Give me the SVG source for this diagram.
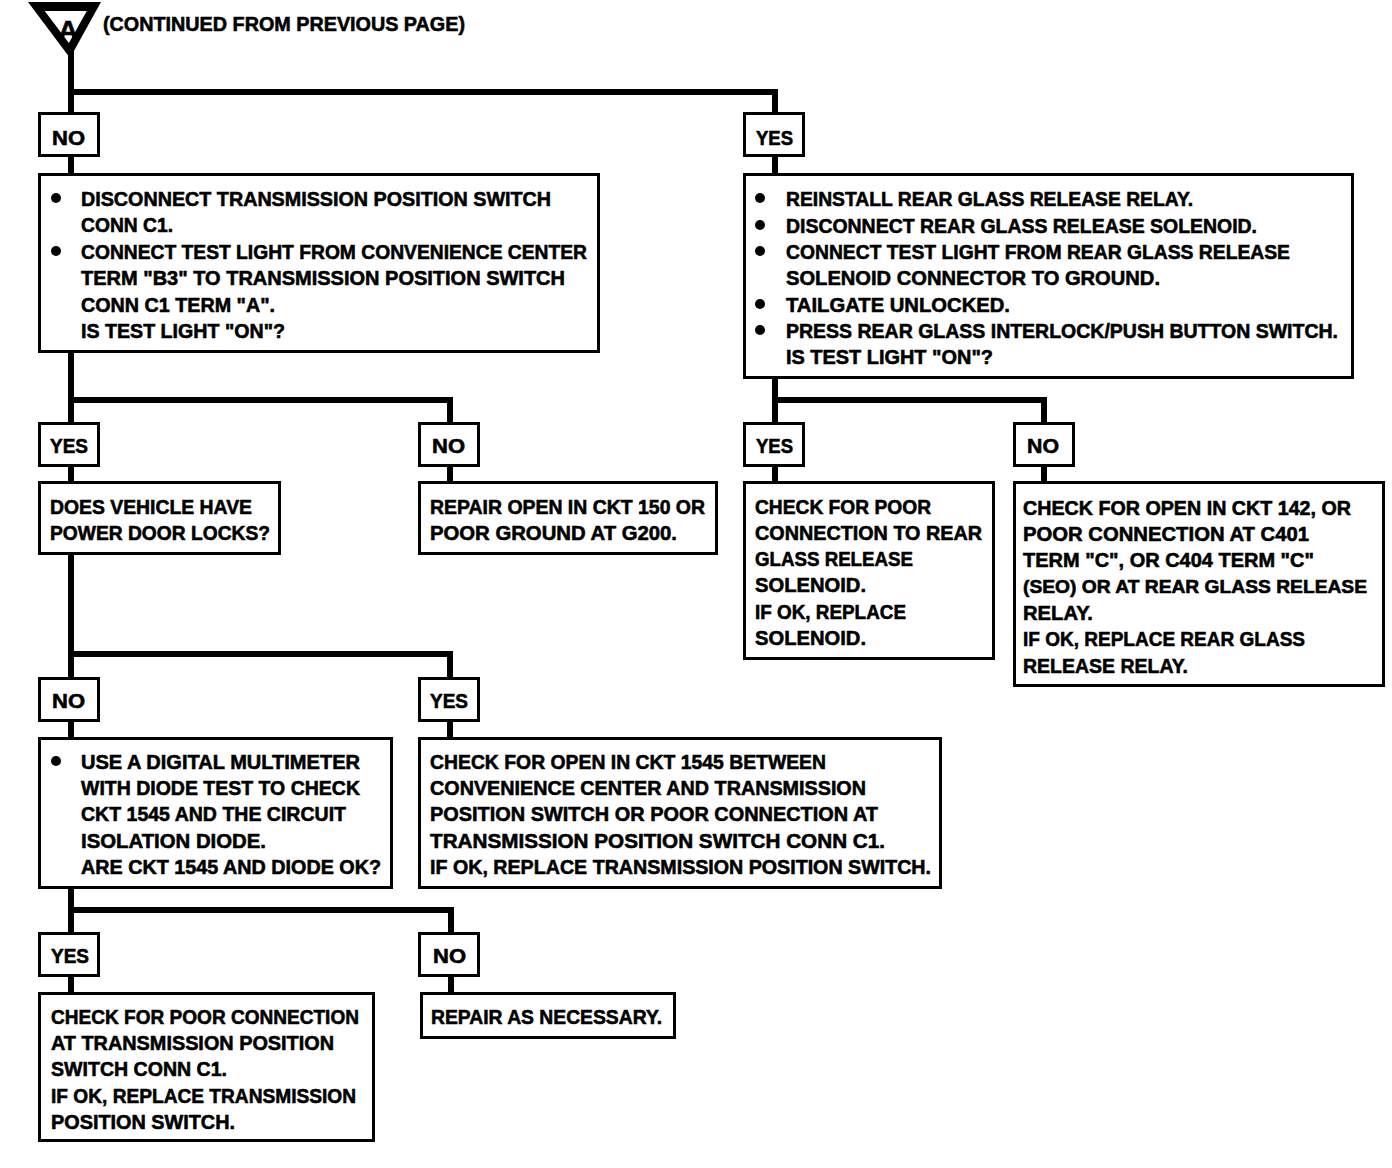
<svg xmlns="http://www.w3.org/2000/svg" width="1392" height="1168" viewBox="0 0 1392 1168">
<style>
.t{font-family:"Liberation Sans",Arial,sans-serif;font-weight:bold;font-size:21px;fill:#000;stroke:#000;stroke-width:0.6}
.b{fill:#fff;stroke:#000;stroke-width:3}
.c{stroke:#000;stroke-width:6;fill:none;stroke-linecap:butt}
.d{fill:#000}
</style>
<rect width="1392" height="1168" fill="#fff"/>
<g id="connectors">
<path class="c" d="M71 50V113"/>
<path class="c" d="M68 92H778M775 89V113"/>
<path class="c" d="M71 156V175M775 156V175"/>
<path class="c" d="M71 352V423M68 400H453M450 397V423"/>
<path class="c" d="M71 466V483M450 466V483"/>
<path class="c" d="M775 378V423M772 400H1047M1044 397V423"/>
<path class="c" d="M775 466V483M1044 466V483"/>
<path class="c" d="M71 554V678M68 654H453M450 651V678"/>
<path class="c" d="M71 721V739M450 721V739"/>
<path class="c" d="M71 888V933M68 910H454M451 907V933"/>
<path class="c" d="M71 976V994M451 976V994"/>
</g>
<g id="start">
<polygon points="28,2 101,2 70,58" fill="#000"/>
<polygon points="44.7,11 86.8,11 68.9,43" fill="#fff"/>
<text class="t" x="68" y="40" text-anchor="middle" style="font-size:28px">A</text>
<text class="t" x="103" y="31" textLength="362" lengthAdjust="spacingAndGlyphs">(CONTINUED FROM PREVIOUS PAGE)</text>
</g>
<g id="no1">
<rect class="b" x="39.5" y="113.5" width="59" height="42"/>
<text class="t" x="52" y="145" textLength="33" lengthAdjust="spacingAndGlyphs">NO</text>
</g>
<g id="yes1">
<rect class="b" x="744.5" y="113.5" width="59" height="42"/>
<text class="t" x="756" y="145" textLength="37" lengthAdjust="spacingAndGlyphs">YES</text>
</g>
<g id="box1">
<rect class="b" x="39.5" y="174.5" width="559" height="177"/>
<circle class="d" cx="56" cy="198" r="5"/>
<circle class="d" cx="56" cy="251" r="5"/>
<text class="t" x="81" y="206" textLength="470" lengthAdjust="spacingAndGlyphs">DISCONNECT TRANSMISSION POSITION SWITCH</text>
<text class="t" x="81" y="232" textLength="92" lengthAdjust="spacingAndGlyphs">CONN C1.</text>
<text class="t" x="81" y="259" textLength="506" lengthAdjust="spacingAndGlyphs">CONNECT TEST LIGHT FROM CONVENIENCE CENTER</text>
<text class="t" x="81" y="285" textLength="484" lengthAdjust="spacingAndGlyphs">TERM "B3" TO TRANSMISSION POSITION SWITCH</text>
<text class="t" x="81" y="312" textLength="194" lengthAdjust="spacingAndGlyphs">CONN C1 TERM "A".</text>
<text class="t" x="81" y="338" textLength="204" lengthAdjust="spacingAndGlyphs">IS TEST LIGHT "ON"?</text>
</g>
<g id="box2">
<rect class="b" x="744.5" y="174.5" width="608" height="203"/>
<circle class="d" cx="760" cy="198" r="5"/>
<circle class="d" cx="760" cy="225" r="5"/>
<circle class="d" cx="760" cy="251" r="5"/>
<circle class="d" cx="760" cy="304" r="5"/>
<circle class="d" cx="760" cy="330" r="5"/>
<text class="t" x="786" y="206" textLength="407" lengthAdjust="spacingAndGlyphs">REINSTALL REAR GLASS RELEASE RELAY.</text>
<text class="t" x="786" y="233" textLength="471" lengthAdjust="spacingAndGlyphs">DISCONNECT REAR GLASS RELEASE SOLENOID.</text>
<text class="t" x="786" y="259" textLength="504" lengthAdjust="spacingAndGlyphs">CONNECT TEST LIGHT FROM REAR GLASS RELEASE</text>
<text class="t" x="786" y="285" textLength="374" lengthAdjust="spacingAndGlyphs">SOLENOID CONNECTOR TO GROUND.</text>
<text class="t" x="786" y="312" textLength="224" lengthAdjust="spacingAndGlyphs">TAILGATE UNLOCKED.</text>
<text class="t" x="786" y="338" textLength="552" lengthAdjust="spacingAndGlyphs">PRESS REAR GLASS INTERLOCK/PUSH BUTTON SWITCH.</text>
<text class="t" x="786" y="364" textLength="207" lengthAdjust="spacingAndGlyphs">IS TEST LIGHT "ON"?</text>
</g>
<g id="yes2l">
<rect class="b" x="39.5" y="423.5" width="59" height="42"/>
<text class="t" x="50" y="453" textLength="38" lengthAdjust="spacingAndGlyphs">YES</text>
</g>
<g id="no2l">
<rect class="b" x="419.5" y="423.5" width="59" height="42"/>
<text class="t" x="432" y="453" textLength="33" lengthAdjust="spacingAndGlyphs">NO</text>
</g>
<g id="yes2r">
<rect class="b" x="744.5" y="423.5" width="59" height="42"/>
<text class="t" x="756" y="453" textLength="37" lengthAdjust="spacingAndGlyphs">YES</text>
</g>
<g id="no2r">
<rect class="b" x="1014.5" y="423.5" width="59" height="42"/>
<text class="t" x="1027" y="453" textLength="32" lengthAdjust="spacingAndGlyphs">NO</text>
</g>
<g id="doors">
<rect class="b" x="39.5" y="482.5" width="240" height="71"/>
<text class="t" x="50" y="514" textLength="202" lengthAdjust="spacingAndGlyphs">DOES VEHICLE HAVE</text>
<text class="t" x="50" y="540" textLength="220" lengthAdjust="spacingAndGlyphs">POWER DOOR LOCKS?</text>
</g>
<g id="repair150">
<rect class="b" x="419.5" y="482.5" width="297" height="71"/>
<text class="t" x="430" y="514" textLength="275" lengthAdjust="spacingAndGlyphs">REPAIR OPEN IN CKT 150 OR</text>
<text class="t" x="430" y="540" textLength="247" lengthAdjust="spacingAndGlyphs">POOR GROUND AT G200.</text>
</g>
<g id="checksolenoid">
<rect class="b" x="744.5" y="482.5" width="249" height="176"/>
<text class="t" x="755" y="514" textLength="176" lengthAdjust="spacingAndGlyphs">CHECK FOR POOR</text>
<text class="t" x="755" y="540" textLength="227" lengthAdjust="spacingAndGlyphs">CONNECTION TO REAR</text>
<text class="t" x="755" y="566" textLength="158" lengthAdjust="spacingAndGlyphs">GLASS RELEASE</text>
<text class="t" x="755" y="592" textLength="111" lengthAdjust="spacingAndGlyphs">SOLENOID.</text>
<text class="t" x="755" y="619" textLength="151" lengthAdjust="spacingAndGlyphs">IF OK, REPLACE</text>
<text class="t" x="755" y="645" textLength="111" lengthAdjust="spacingAndGlyphs">SOLENOID.</text>
</g>
<g id="check142">
<rect class="b" x="1014.5" y="482.5" width="369" height="203"/>
<text class="t" x="1023" y="515" textLength="328" lengthAdjust="spacingAndGlyphs">CHECK FOR OPEN IN CKT 142, OR</text>
<text class="t" x="1023" y="541" textLength="286" lengthAdjust="spacingAndGlyphs">POOR CONNECTION AT C401</text>
<text class="t" x="1023" y="567" textLength="291" lengthAdjust="spacingAndGlyphs">TERM "C", OR C404 TERM "C"</text>
<text class="t" x="1023" y="593" style="font-size:19px" textLength="344" lengthAdjust="spacingAndGlyphs">(SEO) OR AT REAR GLASS RELEASE</text>
<text class="t" x="1023" y="620" textLength="70" lengthAdjust="spacingAndGlyphs">RELAY.</text>
<text class="t" x="1023" y="646" textLength="282" lengthAdjust="spacingAndGlyphs">IF OK, REPLACE REAR GLASS</text>
<text class="t" x="1023" y="673" textLength="165" lengthAdjust="spacingAndGlyphs">RELEASE RELAY.</text>
</g>
<g id="no3l">
<rect class="b" x="39.5" y="678.5" width="59" height="42"/>
<text class="t" x="52" y="708" textLength="33" lengthAdjust="spacingAndGlyphs">NO</text>
</g>
<g id="yes3r">
<rect class="b" x="419.5" y="678.5" width="59" height="42"/>
<text class="t" x="430" y="708" textLength="38" lengthAdjust="spacingAndGlyphs">YES</text>
</g>
<g id="multimeter">
<rect class="b" x="39.5" y="738.5" width="352" height="149"/>
<circle class="d" cx="56" cy="761" r="5"/>
<text class="t" x="81" y="769" textLength="279" lengthAdjust="spacingAndGlyphs">USE A DIGITAL MULTIMETER</text>
<text class="t" x="81" y="795" textLength="279" lengthAdjust="spacingAndGlyphs">WITH DIODE TEST TO CHECK</text>
<text class="t" x="81" y="821" textLength="265" lengthAdjust="spacingAndGlyphs">CKT 1545 AND THE CIRCUIT</text>
<text class="t" x="81" y="848" textLength="185" lengthAdjust="spacingAndGlyphs">ISOLATION DIODE.</text>
<text class="t" x="81" y="874" textLength="300" lengthAdjust="spacingAndGlyphs">ARE CKT 1545 AND DIODE OK?</text>
</g>
<g id="ckt1545">
<rect class="b" x="419.5" y="738.5" width="521" height="149"/>
<text class="t" x="430" y="769" textLength="396" lengthAdjust="spacingAndGlyphs">CHECK FOR OPEN IN CKT 1545 BETWEEN</text>
<text class="t" x="430" y="795" textLength="436" lengthAdjust="spacingAndGlyphs">CONVENIENCE CENTER AND TRANSMISSION</text>
<text class="t" x="430" y="821" textLength="448" lengthAdjust="spacingAndGlyphs">POSITION SWITCH OR POOR CONNECTION AT</text>
<text class="t" x="430" y="848" textLength="455" lengthAdjust="spacingAndGlyphs">TRANSMISSION POSITION SWITCH CONN C1.</text>
<text class="t" x="430" y="874" textLength="501" lengthAdjust="spacingAndGlyphs">IF OK, REPLACE TRANSMISSION POSITION SWITCH.</text>
</g>
<g id="yes4l">
<rect class="b" x="39.5" y="933.5" width="59" height="42"/>
<text class="t" x="51" y="963" textLength="38" lengthAdjust="spacingAndGlyphs">YES</text>
</g>
<g id="no4r">
<rect class="b" x="419.5" y="933.5" width="59" height="42"/>
<text class="t" x="433" y="963" textLength="33" lengthAdjust="spacingAndGlyphs">NO</text>
</g>
<g id="checkconn">
<rect class="b" x="39.5" y="993.5" width="334" height="147"/>
<text class="t" x="51" y="1024" textLength="308" lengthAdjust="spacingAndGlyphs">CHECK FOR POOR CONNECTION</text>
<text class="t" x="51" y="1050" textLength="283" lengthAdjust="spacingAndGlyphs">AT TRANSMISSION POSITION</text>
<text class="t" x="51" y="1076" textLength="176" lengthAdjust="spacingAndGlyphs">SWITCH CONN C1.</text>
<text class="t" x="51" y="1103" textLength="305" lengthAdjust="spacingAndGlyphs">IF OK, REPLACE TRANSMISSION</text>
<text class="t" x="51" y="1129" textLength="184" lengthAdjust="spacingAndGlyphs">POSITION SWITCH.</text>
</g>
<g id="repairnec">
<rect class="b" x="421.5" y="993.5" width="253" height="44"/>
<text class="t" x="431" y="1024" textLength="231" lengthAdjust="spacingAndGlyphs">REPAIR AS NECESSARY.</text>
</g>
</svg>
